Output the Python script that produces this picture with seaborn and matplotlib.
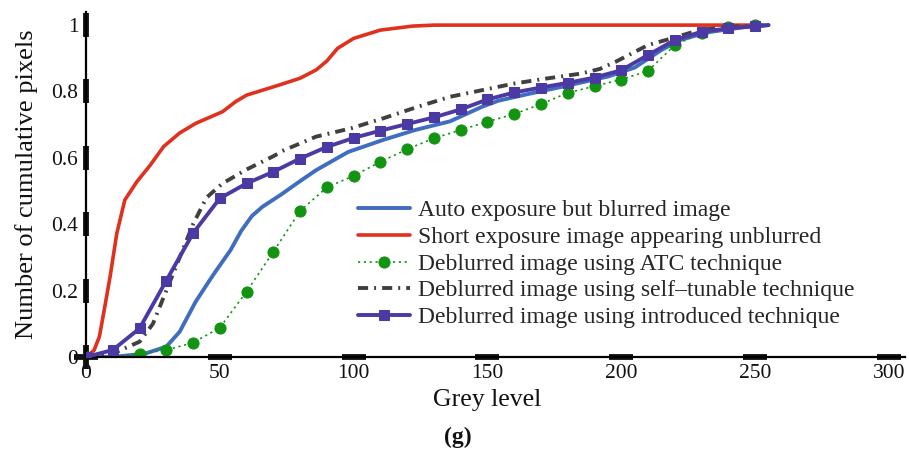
import numpy as np
import pandas as pd
import matplotlib
matplotlib.use("Agg")
import matplotlib.pyplot as plt
import seaborn as sns

sns.set_theme(style="white")
plt.rcParams['font.family'] = ['Liberation Serif', 'DejaVu Serif']

# -------------------------------------------------------------------
# Data (grey level -> cumulative fraction)
# -------------------------------------------------------------------
marker_grey = [0, 10, 20, 30, 40, 50, 60, 70, 80, 90, 100, 110, 120,
               130, 140, 150, 160, 170, 180, 190, 200, 210, 220, 230, 240, 250]

introduced_grey = marker_grey + [255]
introduced = [0.0, 0.021, 0.086, 0.23, 0.373, 0.478, 0.523, 0.558, 0.598, 0.633,
              0.66, 0.682, 0.702, 0.722, 0.746, 0.776, 0.797, 0.812, 0.826, 0.842,
              0.864, 0.91, 0.955, 0.98, 0.99, 0.997, 1.0]

atc_grey = marker_grey
atc = [0.0, 0.0, 0.01, 0.021, 0.043, 0.088, 0.197, 0.317, 0.44, 0.511,
       0.546, 0.588, 0.626, 0.659, 0.684, 0.709, 0.732, 0.762, 0.796, 0.816,
       0.836, 0.862, 0.94, 0.977, 0.993, 1.0]

auto_grey = [0, 10, 22, 30, 35, 41, 47.5, 54, 58, 62, 66, 73, 80, 86, 98, 111, 123,
             136, 148, 154, 165, 180, 195, 205, 215, 222, 232, 245, 255]
auto = [0.0, 0.0, 0.01, 0.031, 0.076, 0.167, 0.247, 0.322, 0.38, 0.425, 0.453, 0.49,
        0.53, 0.563, 0.618, 0.654, 0.684, 0.71, 0.754, 0.772, 0.792, 0.818,
        0.845, 0.872, 0.925, 0.955, 0.978, 0.993, 1.0]

short_grey = [0, 3, 5, 7, 9, 11.5, 14.5, 19, 24, 29, 35, 41, 51, 56, 60, 72,
              80, 86, 90, 94, 100, 110, 122, 130, 252]
short = [0.0, 0.02, 0.061, 0.15, 0.242, 0.372, 0.473, 0.528, 0.578, 0.634,
         0.675, 0.704, 0.739, 0.77, 0.789, 0.819, 0.84, 0.865, 0.892, 0.93, 0.96,
         0.985, 0.997, 1.0, 1.0]

selftune_grey = [0, 10, 20, 25, 30, 35, 40, 45, 51, 60, 70, 74, 86, 99, 111, 124,
                 136, 148, 160, 172, 185, 192, 198, 204, 210, 221, 229, 241, 255]
selftune = [0.0, 0.01, 0.046, 0.10, 0.20, 0.30, 0.40, 0.48, 0.523, 0.565, 0.605,
            0.623, 0.664, 0.689, 0.719, 0.754, 0.784, 0.804, 0.824, 0.839, 0.854,
            0.868, 0.89, 0.915, 0.94, 0.965, 0.985, 0.995, 1.0]

labels = ["Auto exposure but blurred image",
          "Short exposure image appearing unblurred",
          "Deblurred image using ATC technique",
          "Deblurred image using self\u2013tunable technique",
          "Deblurred image using introduced technique"]

x_ticks = [0, 50, 100, 150, 200, 250, 300]
y_ticks = [0, 0.2, 0.4, 0.6, 0.8, 1]
y_tick_labels = ["0", "0.2", "0.4", "0.6", "0.8", "1"]

# -------------------------------------------------------------------
# Figure
# -------------------------------------------------------------------
fig = plt.figure(figsize=(9.09, 4.5), dpi=100)
ax = fig.add_axes([0.0946, 0.2067, 0.901, 0.767])

sns.lineplot(x=auto_grey, y=auto, ax=ax, color="#3f6dbf", lw=2.8,
             label=labels[0], zorder=2)
sns.lineplot(x=short_grey, y=short, ax=ax, color="#e0301e", lw=2.6,
             label=labels[1], zorder=2)
sns.lineplot(x=atc_grey, y=atc, ax=ax, color="#129412", lw=1.2,
             linestyle=(0, (1.3, 2.2)), marker="o", ms=8, mec="#129412",
             label=labels[2], zorder=2)
sns.lineplot(x=selftune_grey, y=selftune, ax=ax, color="#404040", lw=2.8,
             linestyle=(0, (2.6, 1.55, 0.5, 1.55)),
             label=labels[3], zorder=2)
sns.lineplot(x=introduced_grey, y=introduced, ax=ax, color="#4b3aa3", lw=2.8,
             marker="s", ms=7, mec="#4b3aa3", markevery=list(range(len(marker_grey))),
             label=labels[4], zorder=3)

ax.set_xlim(0, 306)
ax.set_ylim(0, 1.04)

# axes styling: only left and bottom spines, ticks drawn as thick bars
sns.despine(ax=ax)
for side in ["left", "bottom"]:
    ax.spines[side].set_color("black")
    ax.spines[side].set_linewidth(1.6)
ax.set_xticks(x_ticks)
ax.set_yticks(y_ticks)
ax.set_yticklabels(y_tick_labels)
ax.tick_params(axis="both", length=0, labelsize=15.5, colors="#111111")
ax.tick_params(axis="x", pad=5)
ax.tick_params(axis="y", pad=5.5)
ax.plot(np.zeros(len(y_ticks)), y_ticks, ls="none", marker="|", ms=17,
        mew=4.2, color="#111111", clip_on=False, zorder=1.5)
ax.plot(x_ticks, np.zeros(len(x_ticks)), ls="none", marker="_", ms=17,
        mew=4.2, color="#111111", clip_on=False, zorder=1.5)

ax.set_xlabel("Grey level", fontsize=18.5, color="#111111")
ax.xaxis.set_label_coords(0.4896, -0.094)
ax.set_ylabel("Number of cumulative pixels", fontsize=19, color="#111111")
ax.yaxis.set_label_coords(-0.058, 0.5)

ax.legend(loc="upper left", bbox_to_anchor=(0.394, 0.556),
          bbox_transform=fig.transFigure, frameon=False, fontsize=17,
          handlelength=2.2, handletextpad=0.34, labelspacing=0.22,
          borderpad=0, borderaxespad=0)

fig.text(458 / 909, 1 - 437 / 450, "(g)", fontsize=17, fontweight="bold",
         ha="center", va="center", color="#111111")

fig.savefig("out.png", dpi=100)
